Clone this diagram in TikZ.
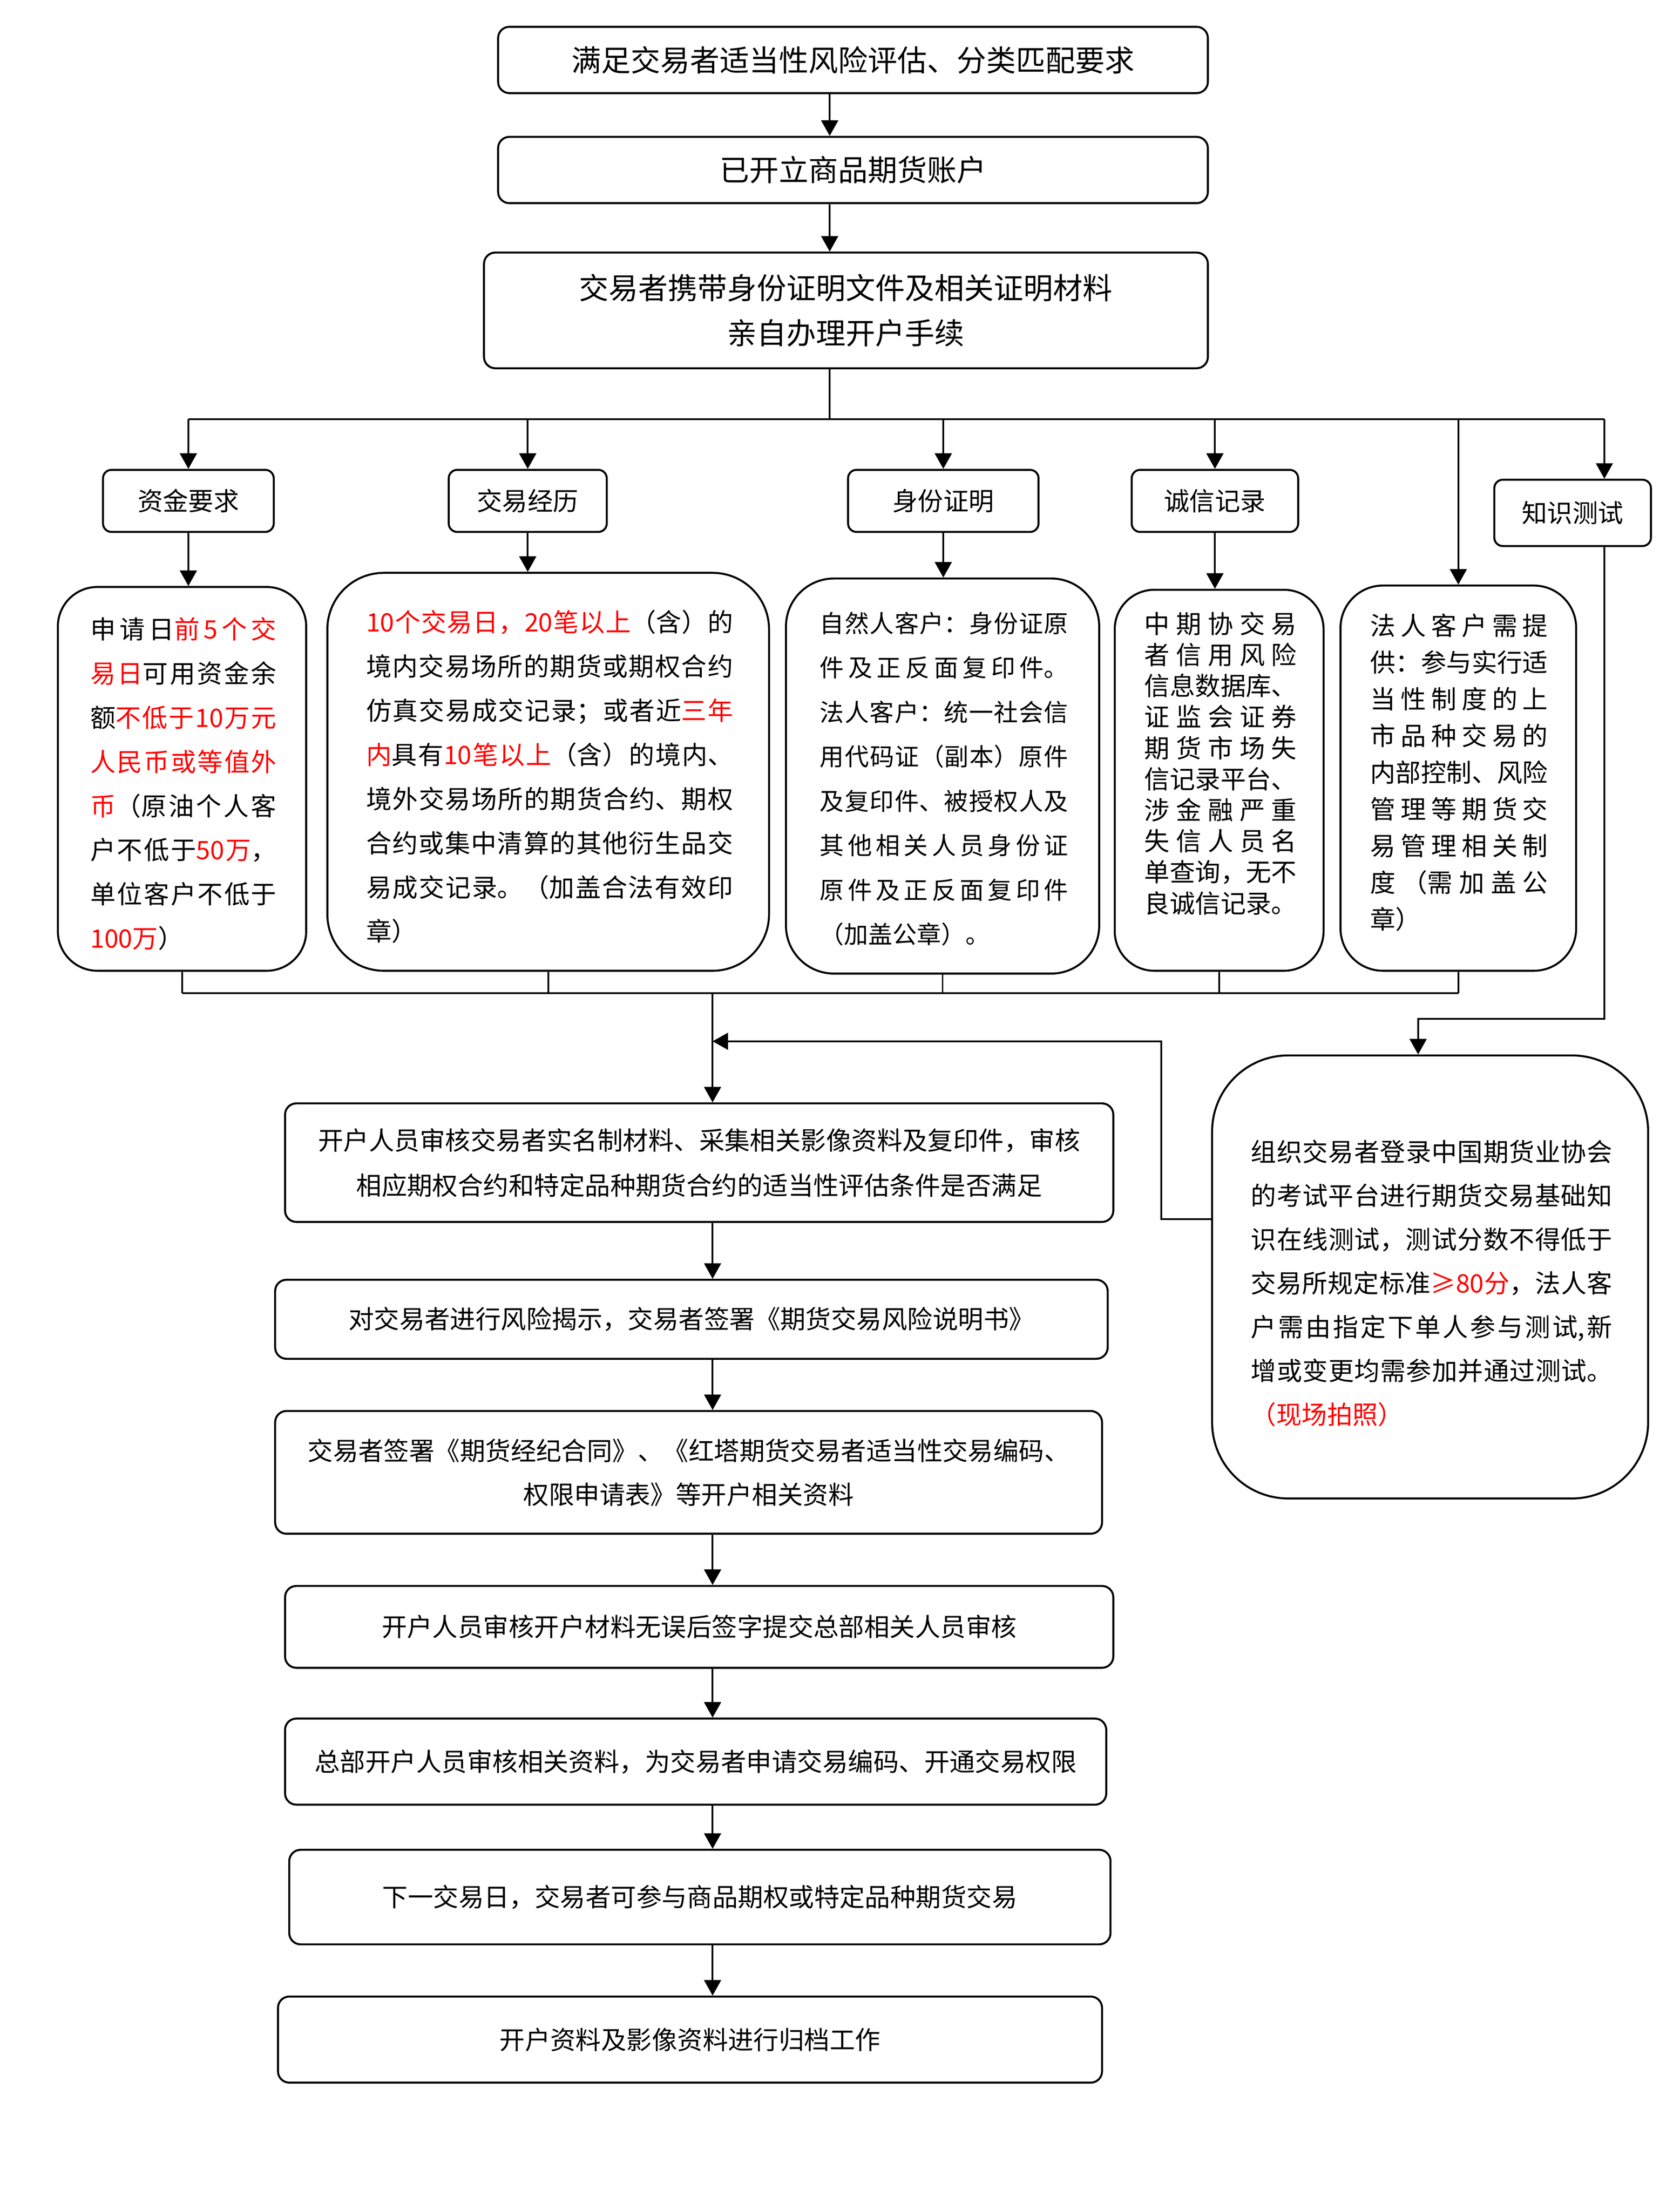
\documentclass[tikz,border=0pt]{standalone}
\usepackage{fontspec}
\setmainfont{Noto Sans CJK SC}
\XeTeXlinebreaklocale "zh"
\XeTeXlinebreakskip=0pt plus 1pt
\usetikzlibrary{arrows.meta,calc}

\begin{document}
\begin{tikzpicture}[x=0.5pt, y=-0.5pt,
        stepnode/.style={rectangle, draw, rounded corners=4pt, line width=0.7pt, align=center, inner sep=0pt, font=\fontsize{9}{16}\selectfont},
        topnode/.style={stepnode, font=\fontsize{10.5}{16}\selectfont},
        labelnode/.style={rectangle, draw, rounded corners=3pt, line width=0.7pt, inner sep=0pt, minimum height=22pt, font=\fontsize{9}{11}\selectfont},
        detailnode/.style={rectangle, draw, line width=0.7pt, inner sep=0pt},
        detailtext/.style={align=justify, inner sep=0pt, font=\fontsize{9}{15.65}\selectfont},
        arrowline/.style={line width=0.6pt, -{Triangle[width=6pt,length=5.5pt]}},
        plainline/.style={line width=0.6pt},
        ]
        \useasboundingbox (0,0) rectangle (1190.5,1567);

        %Nodes
        \node[topnode, minimum width=251.5pt, minimum height=23.5pt] (req) at (604.5,42.5) {满足交易者适当性风险评估、分类匹配要求};
        \node[topnode, minimum width=251.5pt, minimum height=23.5pt] (acct) at (604.5,120.5) {已开立商品期货账户};
        \node[topnode, minimum width=256.5pt, minimum height=41pt] (visit) at (599.5,220) {交易者携带身份证明文件及相关证明材料\\亲自办理开户手续};

        \node[labelnode, minimum width=60.5pt] (fundlabel) at (133.5,355) {资金要求};
        \node[labelnode, minimum width=56pt] (explabel) at (374,355) {交易经历};
        \node[labelnode, minimum width=67.5pt] (idlabel) at (668.5,355) {身份证明};
        \node[labelnode, minimum width=59pt] (creditlabel) at (861,355) {诚信记录};
        \node[labelnode, minimum width=55.5pt, minimum height=23.5pt] (testlabel) at (1114.5,363.5) {知识测试};

        \node[detailnode, rounded corners=14pt, minimum width=88pt, minimum height=136pt] (fundbox) at (129,552) {};
        \node[detailnode, rounded corners=20pt, minimum width=156.5pt, minimum height=141pt] (expbox) at (388.5,547) {};
        \node[detailnode, rounded corners=17pt, minimum width=111pt, minimum height=140pt] (idbox) at (668,550) {};
        \node[detailnode, rounded corners=14pt, minimum width=74pt, minimum height=135pt] (creditbox) at (864,553) {};
        \node[detailnode, rounded corners=15pt, minimum width=83.5pt, minimum height=136.5pt] (legalbox) at (1033.5,551.5) {};
        \node[detailnode, rounded corners=27pt, minimum width=154.5pt, minimum height=157pt] (testbox) at (1013.5,905) {};

        \node[detailtext, text width=66pt] (fundtext) at (130,555.5) {申请日\textcolor{red}{前5个交}\linebreak
\textcolor{red}{易日}可用资金余\linebreak
额\textcolor{red}{不低于10万元}\linebreak
\textcolor{red}{人民币或等值外}\linebreak
\textcolor{red}{币}（原油个人客\linebreak
户不低于\textcolor{red}{50万}，\linebreak
单位客户不低于\linebreak
\textcolor{red}{100万}）};
        \node[detailtext, text width=130pt] (exptext) at (389.5,550.5) {\textcolor{red}{10个交易日，20笔以上}（含）的\linebreak
境内交易场所的期货或期权合约\linebreak
仿真交易成交记录；或者近\textcolor{red}{三年}\linebreak
\textcolor{red}{内}具有\textcolor{red}{10笔以上}（含）的境内、\linebreak
境外交易场所的期货合约、期权\linebreak
合约或集中清算的其他衍生品交\linebreak
易成交记录。（加盖合法有效印\linebreak
章）};
        \node[detailtext, text width=88pt, font=\fontsize{8.6}{15.75}\selectfont] (idtext) at (669,552) {自然人客户：身份证原\linebreak
件及正反面复印件。\linebreak
法人客户：统一社会信\linebreak
用代码证（副本）原件\linebreak
及复印件、被授权人及\linebreak
其他相关人员身份证\linebreak
原件及正反面复印件\linebreak
（加盖公章）。};
        \node[detailtext, text width=54pt, font=\fontsize{9}{11}\selectfont] (credittext) at (865,541) {中期协交易\linebreak
者信用风险\linebreak
信息数据库、\linebreak
证监会证券\linebreak
期货市场失\linebreak
信记录平台、\linebreak
涉金融严重\linebreak
失信人员名\linebreak
单查询，无不\linebreak
良诚信记录。};
        \node[detailtext, text width=63pt, font=\fontsize{9}{13}\selectfont] (legaltext) at (1034,547.5) {法人客户需提\linebreak
供：参与实行适\linebreak
当性制度的上\linebreak
市品种交易的\linebreak
内部控制、风险\linebreak
管理等期货交\linebreak
易管理相关制\linebreak
度（需加盖公\linebreak
章）};
        \node[detailtext, text width=128pt, font=\fontsize{9}{15.5}\selectfont] (testtext) at (1014.5,909.5) {组织交易者登录中国期货业协会\linebreak
的考试平台进行期货交易基础知\linebreak
识在线测试，测试分数不得低于\linebreak
交易所规定标准\textcolor{red}{≥80分}，法人客\linebreak
户需由指定下单人参与测试,新\linebreak
增或变更均需参加并通过测试。\linebreak
\textcolor{red}{（现场拍照）}};

        \node[stepnode, minimum width=293.5pt, minimum height=42pt] (review) at (495.5,824) {开户人员审核交易者实名制材料、采集相关影像资料及复印件，审核\\相应期权合约和特定品种期货合约的适当性评估条件是否满足};
        \node[stepnode, minimum width=295pt, minimum height=28pt] (risk) at (490,935) {对交易者进行风险揭示，交易者签署《期货交易风险说明书》};
        \node[stepnode, minimum width=293pt, minimum height=43.5pt, font=\fontsize{9}{15.5}\selectfont] (contract) at (488,1043.5) {交易者签署《期货经纪合同》、《红塔期货交易者适当性交易编码、\\权限申请表》等开户相关资料};
        \node[stepnode, minimum width=293.5pt, minimum height=29pt] (submit) at (495.5,1153) {开户人员审核开户材料无误后签字提交总部相关人员审核};
        \node[stepnode, minimum width=291pt, minimum height=30.5pt] (hq) at (493,1248.5) {总部开户人员审核相关资料，为交易者申请交易编码、开通交易权限};
        \node[stepnode, minimum width=291pt, minimum height=33.5pt] (nexttrade) at (496,1344.5) {下一交易日，交易者可参与商品期权或特定品种期货交易};
        \node[stepnode, minimum width=292pt, minimum height=30.5pt] (archive) at (489,1445.5) {开户资料及影像资料进行归档工作};

        %Coordinates
        \coordinate (trunk) at (588,0);
        \coordinate (chain) at (505,0);
        \coordinate (barL) at (133.5,297);
        \coordinate (barR) at (1137,297);
        \coordinate (botL) at (129,704);
        \coordinate (botR) at (1033.5,704);
        \coordinate (testbend) at (1005,722);
        \coordinate (loopx) at (823,738);

        %Connectors
        \draw[arrowline] (req.south -| trunk) -- (acct.north -| trunk);
        \draw[arrowline] (acct.south -| trunk) -- (visit.north -| trunk);
        \draw[plainline] (visit.south -| trunk) -- (trunk |- barL);
        \draw[plainline] (barL) -- (barR);
        \draw[arrowline] (fundlabel.north |- barL) -- (fundlabel.north);
        \draw[arrowline] (explabel.north |- barL) -- (explabel.north);
        \draw[arrowline] (idlabel.north |- barL) -- (idlabel.north);
        \draw[arrowline] (creditlabel.north |- barL) -- (creditlabel.north);
        \draw[arrowline] (legalbox.north |- barL) -- (legalbox.north);
        \draw[arrowline] (barR) -- (barR |- testlabel.north);

        \draw[arrowline] (fundlabel.south) -- (fundlabel.south |- fundbox.north);
        \draw[arrowline] (explabel.south) -- (explabel.south |- expbox.north);
        \draw[arrowline] (idlabel.south) -- (idlabel.south |- idbox.north);
        \draw[arrowline] (creditlabel.south) -- (creditlabel.south |- creditbox.north);
        \draw[arrowline] (barR |- testlabel.south) |- (testbend) -- (testbend |- testbox.north);

        \draw[plainline] (fundbox.south) -- (fundbox.south |- botL);
        \draw[plainline] (expbox.south) -- (expbox.south |- botL);
        \draw[plainline] (idbox.south) -- (idbox.south |- botL);
        \draw[plainline] (creditbox.south) -- (creditbox.south |- botL);
        \draw[plainline] (legalbox.south) -- (legalbox.south |- botL);
        \draw[plainline] (botL) -- (botR);
        \draw[arrowline] (chain |- botL) -- (chain |- review.north);
        \draw[arrowline] ($(testbox.west)+(0,-41)$) -| (loopx) -- (chain |- loopx);

        \draw[arrowline] (review.south -| chain) -- (risk.north -| chain);
        \draw[arrowline] (risk.south -| chain) -- (contract.north -| chain);
        \draw[arrowline] (contract.south -| chain) -- (submit.north -| chain);
        \draw[arrowline] (submit.south -| chain) -- (hq.north -| chain);
        \draw[arrowline] (hq.south -| chain) -- (nexttrade.north -| chain);
        \draw[arrowline] (nexttrade.south -| chain) -- (archive.north -| chain);
    \end{tikzpicture}
\end{document}
